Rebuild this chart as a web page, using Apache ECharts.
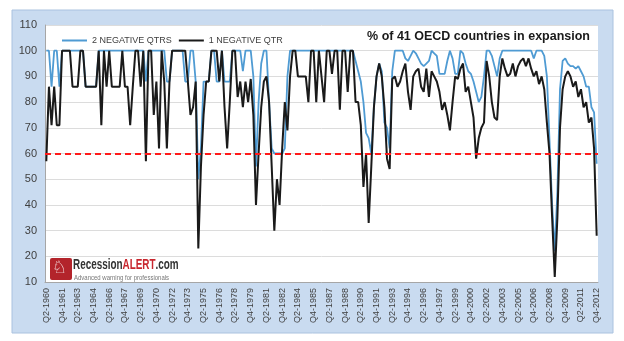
<!DOCTYPE html>
<html>
<head>
<meta charset="utf-8">
<script src="https://cdn.jsdelivr.net/npm/echarts@6/dist/echarts.min.js"></script>
<style>
html,body{margin:0;padding:0;background:#fff;}
#chart{width:624px;height:341px;}
</style>
</head>
<body>
<div id="chart"></div>
<script>
// Quarters Q2-1960 .. Q4-2012
const startYear = 1960, startQ = 2, endYear = 2012, endQ = 4;
const quarters = [];
for (let y = startYear, q = startQ; y < endYear || (y === endYear && q <= endQ); ) {
  quarters.push('Q' + q + '-' + y);
  q++; if (q > 4) { q = 1; y++; }
}

// % of countries in expansion, "2 negative quarters" definition
const twoNegQtrs = [
100,100,86,100,100,86,100,100,100,100, 100,100,100,100,100,86,86,86,86,86,
100,100,100,100,100,100,100,100,100,100, 100,100,100,100,100,100,100,100,88,100,
100,100,100,100,100,100,88,88,100,100, 100,100,100,88,88,100,100,88,50,62,
88,88,88,100,100,88,88,100,88,88, 88,100,100,100,100,92,100,100,100,90,
55,80,95,100,100,80,62,60,60,60, 60,62,90,100,100,100,100,100,100,100,
100,100,100,100,100,100,100,100,100,100, 100,100,100,100,100,100,100,100,96,92,
88,80,68,66,60,78,90,95,92,72, 70,62,92,100,100,100,100,97,96,98,
100,99,97,95,94,95,96,100,99,98, 91,91,91,96,100,97,91,91,100,99,
95,92,91,88,84,80,82,90,100,100, 98,94,90,97,100,100,100,100,100,100,
100,100,100,100,100,100,97,100,100,100, 98,90,65,40,22,45,85,96,97,95,
94,94,93,94,92,90,86,86,78,76, 56
];

// % of countries in expansion, "1 negative quarter" definition
const oneNegQtr = [
57,86,71,86,71,71,100,100,100,100, 86,86,86,100,100,86,86,86,86,86,
100,71,100,86,100,86,86,86,86,100, 86,86,71,86,100,100,86,100,57,100,
100,75,88,62,100,88,62,88,100,100, 100,100,100,100,88,75,78,88,23,55,
75,88,88,100,100,100,88,100,78,62, 80,100,100,82,88,78,88,80,89,75,
40,60,78,88,90,80,55,30,50,40, 62,80,69,90,100,100,90,90,90,90,
80,100,100,80,100,90,80,100,100,91, 100,100,77,100,100,84,100,100,80,80,
71,47,60,33,55,78,90,95,90,78, 58,54,89,90,86,88,92,95,84,77,
90,92,93,86,84,93,82,92,90,88, 84,77,80,75,69,80,90,89,93,95,
84,86,80,74,58,66,70,72,96,90, 80,74,73,90,97,93,90,91,95,90,
94,96,97,94,97,93,90,92,87,90, 85,72,60,35,12,35,70,85,90,92,
90,86,88,82,85,78,80,72,74,62, 28
];

const threshold = 60;
const yTicks = {min: 10, max: 110, step: 10};
const seriesNames = ['2 NEGATIVE QTRS', '1 NEGATIVE QTR'];
const titleText = '% of 41 OECD countries in expansion';

const chart = echarts.init(document.getElementById('chart'), null, {renderer: 'canvas'});
chart.setOption({
  backgroundColor: '#ffffff',
  animation: false,
  graphic: [
    {type: 'rect', z: -10, shape: {x: 12, y: 10, width: 601, height: 323},
     style: {fill: '#c9dbf0', stroke: '#aac2df', lineWidth: 1}},
    {type: 'rect', z: 50, shape: {x: 50, y: 258, width: 22, height: 22, r: 2},
     style: {fill: '#b3242b'}},
    {type: 'text', z: 51, left: 52, top: 260,
     style: {text: '\u2658', fill: '#ffffff', font: 'bold 17px DejaVu Sans'}},
    {type: 'text', z: 50, x: 73, y: 257, scaleX: 0.66, scaleY: 1,
     style: {
       text: '{a|Recession}{b|ALERT}{a|.com}',
       rich: {
         a: {fill: '#333333', font: 'bold 15px "Liberation Sans"'},
         b: {fill: '#c8262e', font: 'bold 15px "Liberation Sans"'}
       }
     }},
    {type: 'text', z: 50, x: 74, y: 274, scaleX: 0.8, scaleY: 1,
     style: {text: 'Advanced warning for professionals', fill: '#777777', font: '7.5px "Liberation Sans"'}},
    {type: 'text', z: 50, right: 34, top: 30,
     style: {text: titleText, fill: '#1a1a1a', font: 'bold 12.5px "Liberation Sans"'}}
  ],
  legend: {
    left: 57, top: 31,
    icon: 'rect',
    itemWidth: 25, itemHeight: 2, itemGap: 7,
    textStyle: {fontSize: 9, color: '#404040', fontFamily: 'Liberation Sans'},
    data: seriesNames
  },
  grid: {left: 45, right: 26, top: 25, bottom: 59, show: true, backgroundColor: '#ffffff', borderWidth: 0},
  xAxis: {
    type: 'category',
    data: quarters,
    boundaryGap: true,
    axisLine: {lineStyle: {color: '#a6a6a6'}},
    axisTick: {show: false},
    axisLabel: {interval: 5, rotate: 90, fontSize: 9, color: '#404040', fontFamily: 'Liberation Sans', margin: 6}
  },
  yAxis: {
    type: 'value',
    min: yTicks.min, max: yTicks.max, interval: yTicks.step,
    axisLine: {show: true, lineStyle: {color: '#a6a6a6'}},
    axisTick: {show: false},
    axisLabel: {fontSize: 11, color: '#404040', fontFamily: 'Liberation Sans', margin: 8},
    splitLine: {lineStyle: {color: '#dcdcdc'}}
  },
  series: [
    {
      name: seriesNames[0], type: 'line', data: twoNegQtrs,
      symbol: 'none', lineStyle: {color: '#4f9bd3', width: 1.8}, itemStyle: {color: '#4f9bd3'},
      z: 2,
      markLine: {
        silent: true, symbol: 'none', label: {show: false},
        lineStyle: {color: '#ff1a1a', width: 2, type: [6, 4]},
        data: [{yAxis: threshold}]
      }
    },
    {
      name: seriesNames[1], type: 'line', data: oneNegQtr,
      symbol: 'none', lineStyle: {color: '#1a1a1a', width: 2}, itemStyle: {color: '#1a1a1a'},
      z: 3
    }
  ]
});
</script>
</body>
</html>
